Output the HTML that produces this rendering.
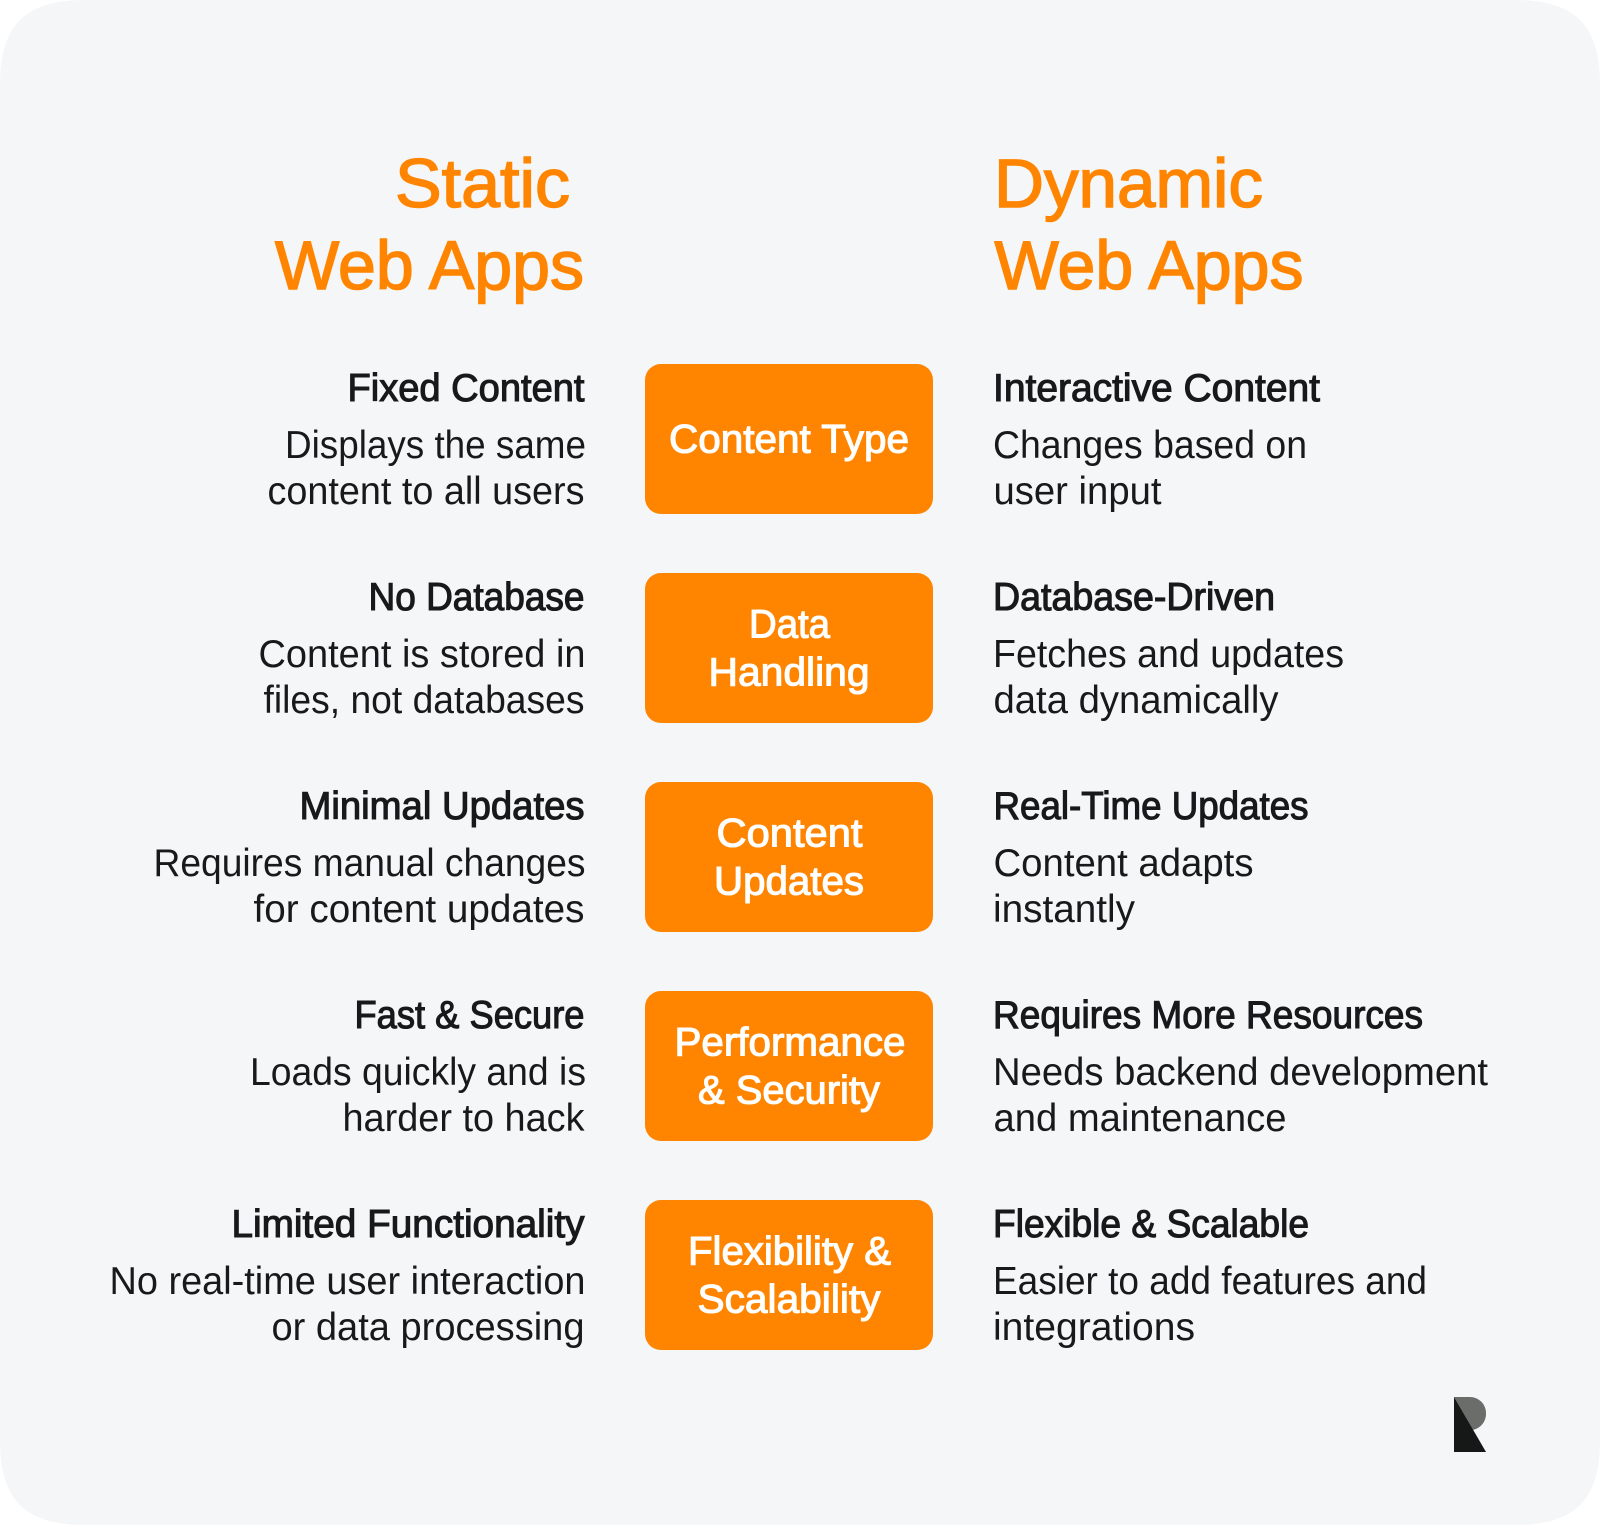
<!DOCTYPE html>
<html>
<head>
<meta charset="utf-8">
<title>Static vs Dynamic Web Apps</title>
<style>
html,body{margin:0;padding:0;background:#fff;width:1600px;height:1525px;overflow:hidden}
svg{display:block}
text{font-family:"Liberation Sans",sans-serif}
.h{font-size:69px;fill:#ff8500;stroke:#ff8500;stroke-width:1.5px}
.t{font-size:39px;fill:#17191b;stroke:#17191b;stroke-width:1.1px}
.b{font-size:39px;fill:#17191b}
.l{font-size:40px;fill:#fff;stroke:#fff;stroke-width:1.1px;text-anchor:middle}
.e{text-anchor:end}
</style>
</head>
<body>
<svg width="1600" height="1525" viewBox="0 0 1600 1525" xmlns="http://www.w3.org/2000/svg">
<path d="M85 0H1515C1575 0 1600 25 1600 85V1440C1600 1500 1575 1525 1515 1525H85C25 1525 0 1500 0 1440V85C0 25 25 0 85 0Z" fill="#f5f6f8"/>

<text class="h e" x="570" y="207" textLength="175" lengthAdjust="spacingAndGlyphs">Static</text>
<text class="h e" x="584" y="289" textLength="309" lengthAdjust="spacingAndGlyphs">Web Apps</text>
<text class="h" x="994" y="207" textLength="269" lengthAdjust="spacingAndGlyphs">Dynamic</text>
<text class="h" x="994.5" y="289" textLength="309" lengthAdjust="spacingAndGlyphs">Web Apps</text>

<rect x="645" y="364" width="288" height="150" rx="16" fill="#ff8500"/>
<rect x="645" y="573" width="288" height="150" rx="16" fill="#ff8500"/>
<rect x="645" y="782" width="288" height="150" rx="16" fill="#ff8500"/>
<rect x="645" y="991" width="288" height="150" rx="16" fill="#ff8500"/>
<rect x="645" y="1200" width="288" height="150" rx="16" fill="#ff8500"/>

<text class="l" x="789" y="452.5" textLength="240" lengthAdjust="spacingAndGlyphs">Content Type</text>
<text class="l" x="789.5" y="637.5" textLength="81" lengthAdjust="spacingAndGlyphs">Data</text>
<text class="l" x="789" y="685.5" textLength="161" lengthAdjust="spacingAndGlyphs">Handling</text>
<text class="l" x="789.5" y="846.5" textLength="146" lengthAdjust="spacingAndGlyphs">Content</text>
<text class="l" x="789" y="894.5" textLength="150" lengthAdjust="spacingAndGlyphs">Updates</text>
<text class="l" x="790" y="1055.5" textLength="231" lengthAdjust="spacingAndGlyphs">Performance</text>
<text class="l" x="789" y="1103.5" textLength="182" lengthAdjust="spacingAndGlyphs">&amp; Security</text>
<text class="l" x="789.5" y="1264.5" textLength="203" lengthAdjust="spacingAndGlyphs">Flexibility &amp;</text>
<text class="l" x="789" y="1312.5" textLength="183" lengthAdjust="spacingAndGlyphs">Scalability</text>

<text class="t e" x="584.5" y="401" textLength="237" lengthAdjust="spacingAndGlyphs">Fixed Content</text>
<text class="b e" x="586" y="458" textLength="301" lengthAdjust="spacingAndGlyphs">Displays the same</text>
<text class="b e" x="584.5" y="504" textLength="317" lengthAdjust="spacingAndGlyphs">content to all users</text>

<text class="t e" x="584.5" y="610" textLength="216" lengthAdjust="spacingAndGlyphs">No Database</text>
<text class="b e" x="585.5" y="667" textLength="327" lengthAdjust="spacingAndGlyphs">Content is stored in</text>
<text class="b e" x="584.5" y="713" textLength="321" lengthAdjust="spacingAndGlyphs">files, not databases</text>

<text class="t e" x="584.5" y="819" textLength="285" lengthAdjust="spacingAndGlyphs">Minimal Updates</text>
<text class="b e" x="585.5" y="876" textLength="432" lengthAdjust="spacingAndGlyphs">Requires manual changes</text>
<text class="b e" x="584.5" y="922" textLength="331" lengthAdjust="spacingAndGlyphs">for content updates</text>

<text class="t e" x="584.5" y="1028" textLength="230" lengthAdjust="spacingAndGlyphs">Fast &amp; Secure</text>
<text class="b e" x="586" y="1085" textLength="336" lengthAdjust="spacingAndGlyphs">Loads quickly and is</text>
<text class="b e" x="584.5" y="1131" textLength="242" lengthAdjust="spacingAndGlyphs">harder to hack</text>

<text class="t e" x="584.5" y="1237" textLength="353" lengthAdjust="spacingAndGlyphs">Limited Functionality</text>
<text class="b e" x="585.5" y="1294" textLength="476" lengthAdjust="spacingAndGlyphs">No real-time user interaction</text>
<text class="b e" x="584.5" y="1340" textLength="313" lengthAdjust="spacingAndGlyphs">or data processing</text>

<text class="t" x="993" y="401" textLength="327" lengthAdjust="spacingAndGlyphs">Interactive Content</text>
<text class="b" x="993" y="458" textLength="314" lengthAdjust="spacingAndGlyphs">Changes based on</text>
<text class="b" x="993.5" y="504" textLength="168" lengthAdjust="spacingAndGlyphs">user input</text>

<text class="t" x="993" y="610" textLength="282" lengthAdjust="spacingAndGlyphs">Database-Driven</text>
<text class="b" x="993" y="667" textLength="351" lengthAdjust="spacingAndGlyphs">Fetches and updates</text>
<text class="b" x="993.5" y="713" textLength="285" lengthAdjust="spacingAndGlyphs">data dynamically</text>

<text class="t" x="993.5" y="819" textLength="315" lengthAdjust="spacingAndGlyphs">Real-Time Updates</text>
<text class="b" x="993.5" y="876" textLength="260" lengthAdjust="spacingAndGlyphs">Content adapts</text>
<text class="b" x="993" y="922" textLength="142" lengthAdjust="spacingAndGlyphs">instantly</text>

<text class="t" x="993" y="1028" textLength="430" lengthAdjust="spacingAndGlyphs">Requires More Resources</text>
<text class="b" x="993" y="1085" textLength="495" lengthAdjust="spacingAndGlyphs">Needs backend development</text>
<text class="b" x="993.5" y="1131" textLength="293" lengthAdjust="spacingAndGlyphs">and maintenance</text>

<text class="t" x="993" y="1237" textLength="316" lengthAdjust="spacingAndGlyphs">Flexible &amp; Scalable</text>
<text class="b" x="993" y="1294" textLength="434" lengthAdjust="spacingAndGlyphs">Easier to add features and</text>
<text class="b" x="993" y="1340" textLength="202" lengthAdjust="spacingAndGlyphs">integrations</text>

<path d="M1454 1397H1470A16 16 0 0 1 1486 1413A16.5 16.5 0 0 1 1473 1430Z" fill="#6b6d6b"/>
<path d="M1454 1397L1486 1452H1454Z" fill="#161817"/>
</svg>
</body>
</html>
